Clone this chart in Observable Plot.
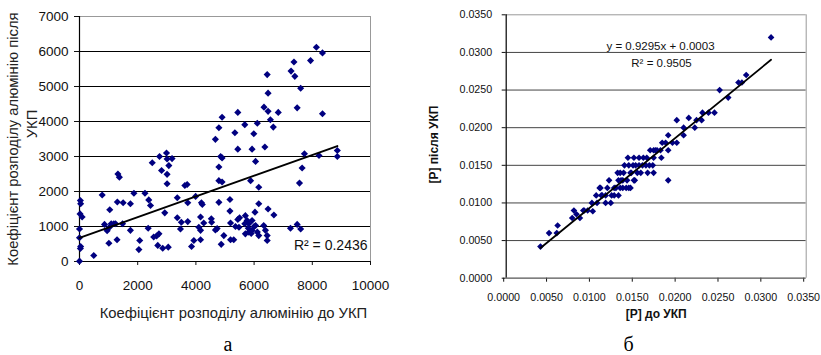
<!DOCTYPE html>
<html>
<head>
<meta charset="utf-8">
<script src="https://cdn.jsdelivr.net/npm/d3@7"></script>
<script src="https://cdn.jsdelivr.net/npm/@observablehq/plot@0.6"></script>
<style>
  html, body { margin: 0; padding: 0; background: #fff; }
  #wrap { display: flex; width: 821px; height: 355px; overflow: hidden; }
</style>
</head>
<body>
<div id="wrap"></div>
<script>
// ---------- Chart а: aluminium distribution coefficient ----------
const alBefore = [30,40,20,90,0,0,40,30,0,490,780,860,950,1030,1090,1180,1240,1040,1010,1320,1370,1300,1500,1290,1480,1750,1750,1870,2070,2040,2250,2380,2440,2360,2500,2550,2650,2730,2690,2750,2820,2860,2930,2990,3010,3070,3010,3010,3180,3050,3360,3360,3470,3500,3620,3700,3720,3720,3850,3930,3990,4100,4160,4160,4190,4220,4160,4270,4530,4540,4670,4730,4670,4790,4790,4790,4790,4850,4900,4900,4900,4870,4960,5170,5170,5190,5190,5300,5340,5440,5440,5440,5480,5680,5700,5760,5820,5680,5930,6030,6160,6050,5700,5820,5930,6110,6160,6330,6390,6450,6450,6480,6680,7250,7480,7600,5880,5930,5990,6050,6110,6160,6340,6370,6450,6480,6480,6560,6660,6830,7270,7370,7400,7480,7560,7600,7650,7730,7940,8140,8230,8350,8350,8860,8860,5360,5500,5800,6000,5900];
const alAfter  = [1740,1650,1360,1270,930,680,430,370,10,170,1900,1060,880,980,1080,1080,1080,1480,520,2500,2410,1700,1680,620,1080,1650,890,1950,600,340,1950,1760,1600,950,2820,700,730,790,460,3000,2600,380,1390,3100,2930,2740,2490,2220,2940,410,1820,1250,930,1120,2170,2200,1680,1140,430,600,1860,980,890,1270,1680,1630,620,1100,1220,1120,900,940,3490,3820,2700,2310,1690,3000,2960,4120,2270,490,740,1770,1440,1100,620,620,3680,4260,3210,1200,980,3910,1310,1170,1080,1080,1170,1410,1650,1030,790,840,890,840,740,1030,890,740,600,1500,1330,950,1060,930,2310,3210,3650,2860,3950,2120,4410,3270,5340,4810,4290,4050,3840,4260,5440,5700,5290,4390,2240,4950,2670,3080,5740,6120,3030,5960,4220,3170,3000,1000,1250,950,1000,800];
const alXTicks = [0, 2000, 4000, 6000, 8000, 10000];
const alYTicks = [0, 1000, 2000, 3000, 4000, 5000, 6000, 7000];
const alSlope = 0.2958, alIntercept = 676;
const alR2Label = "R² = 0.2436";
const alXTitle = "Коефіцієнт розподілу алюмінію до УКП";
const alYTitle1 = "Коефіцієнт розподілу алюмінію після";
const alYTitle2 = "УКП";
const labelA = "а";

// ---------- Chart б: phosphorus ----------
const pBefore = [0.0040,0.0050,0.0060,0.0059,0.0077,0.0079,0.0086,0.0090,0.0095,0.0100,0.0101,0.0106,0.0105,0.0109,0.0111,0.0116,0.0122,0.0118,0.0120,0.0123,0.0126,0.0130,0.0131,0.0131,0.0133,0.0137,0.0133,0.0136,0.0140,0.0143,0.0145,0.0136,0.0141,0.0142,0.0143,0.0145,0.0148,0.0151,0.0155,0.0159,0.0163,0.0167,0.0171,0.0149,0.0155,0.0160,0.0164,0.0153,0.0157,0.0150,0.0168,0.0172,0.0176,0.0172,0.0172,0.0181,0.0182,0.0186,0.0189,0.0189,0.0189,0.0194,0.0199,0.0199,0.0207,0.0207,0.0213,0.0220,0.0222,0.0228,0.0229,0.0236,0.0243,0.0249,0.0259,0.0271,0.0275,0.0280,0.0309,0.0091,0.0110,0.0116,0.0128,0.0149,0.0174,0.0180,0.0138,0.0165,0.0126,0.0146,0.0134,0.0112,0.0082];
const pAfter  = [0.0042,0.0060,0.0070,0.0060,0.0080,0.0090,0.0080,0.0090,0.0090,0.0100,0.0089,0.0100,0.0110,0.0120,0.0110,0.0100,0.0100,0.0120,0.0130,0.0110,0.0120,0.0140,0.0110,0.0130,0.0140,0.0140,0.0120,0.0120,0.0120,0.0120,0.0120,0.0130,0.0130,0.0160,0.0150,0.0140,0.0150,0.0150,0.0150,0.0150,0.0150,0.0150,0.0150,0.0160,0.0160,0.0160,0.0160,0.0140,0.0140,0.0130,0.0170,0.0170,0.0170,0.0140,0.0160,0.0160,0.0180,0.0180,0.0190,0.0170,0.0130,0.0180,0.0180,0.0210,0.0200,0.0190,0.0213,0.0200,0.0210,0.0210,0.0220,0.0220,0.0220,0.0250,0.0240,0.0260,0.0260,0.0270,0.0320,0.0090,0.0120,0.0110,0.0120,0.0130,0.0170,0.0170,0.0150,0.0140,0.0110,0.0140,0.0130,0.0110,0.0085];
const pTicks = [0, 0.005, 0.010, 0.015, 0.020, 0.025, 0.030, 0.035];
const pSlope = 0.9295, pIntercept = 0.0003;
const pEqLabel = "y = 0.9295x + 0.0003";
const pR2Label = "R² = 0.9505";
const pXTitle = "[P] до УКП";
const pYTitle = "[P] після УКП";
const labelB = "б";

const font = "'Liberation Sans', Arial, sans-serif";
const serif = "'Liberation Serif', 'Times New Roman', serif";
const navy = "#000080";
const hasAxisMarks = typeof Plot.axisX === "function";

// data tables
const alData = alBefore.map((x, i) => ({x, y: alAfter[i]}));
const pData = pBefore.map((x, i) => ({x, y: pAfter[i]}));
const alLine = d3.extent(alBefore).map(x => ({x, y: alSlope * x + alIntercept}));
const pLine = d3.extent(pBefore).map(x => ({x, y: pSlope * x + pIntercept}));

const left = Plot.plot({
  width: 410, height: 355,
  marginLeft: 79, marginRight: 40, marginTop: 16, marginBottom: 94,
  style: {fontFamily: font, fontSize: "13.5px", color: "#111", background: "#fff", overflow: "visible"},
  x: {domain: [0, 10000], ticks: alXTicks, tickFormat: d3.format("d"), tickSize: 4, tickPadding: 15, label: null},
  y: {domain: [0, 7000], ticks: alYTicks, tickFormat: d3.format("d"), tickSize: 5, tickPadding: 6, label: null},
  marks: [
    Plot.ruleY(alYTicks.filter(d => d > 0 && d < 7000), {stroke: "#000", strokeWidth: 1}),
    Plot.ruleY([7000], {stroke: "#999", strokeWidth: 1}),
    Plot.ruleX([10000], {stroke: "#999", strokeWidth: 1}),
    Plot.ruleX([0], {stroke: "#000", strokeWidth: 1.2}),
    Plot.ruleY([0], {stroke: "#000", strokeWidth: 1.2}),
    Plot.dot(alData, {x: "x", y: "y", symbol: "diamond2", r: 3.2, fill: navy, stroke: "none"}),
    Plot.line(alLine, {x: "x", y: "y", stroke: "#000", strokeWidth: 2}),
    Plot.text([alR2Label], {frameAnchor: "bottom-right", textAnchor: "end", lineAnchor: "middle", dx: -3, dy: -16, fontSize: 14, fill: "#111"}),
    Plot.text([alXTitle], {frameAnchor: "bottom", textAnchor: "middle", lineAnchor: "middle", dx: 8.5, dy: 52, fontSize: 14.8, fill: "#222"}),
    Plot.text([alYTitle1], {frameAnchor: "left", textAnchor: "middle", rotate: -90, lineAnchor: "middle", dx: -66, dy: 0, fontSize: 14.8, fill: "#222"}),
    Plot.text([alYTitle2], {frameAnchor: "left", textAnchor: "middle", rotate: -90, lineAnchor: "middle", dx: -47, dy: -15, fontSize: 14.8, fill: "#222"}),
    Plot.text([labelA], {frameAnchor: "bottom", textAnchor: "middle", lineAnchor: "middle", dx: 3, dy: 83, fontSize: 20, fontFamily: serif, fill: "#000"})
  ]
});

const rightXAxis = hasAxisMarks
  ? [Plot.axisX(pTicks, {tickFormat: d3.format(".4f"), tickSize: 4, tickPadding: 11, dx: -2.5, fontSize: 10.7})]
  : [];

const right = Plot.plot({
  width: 411, height: 355,
  marginLeft: 95.7, marginRight: 15.3, marginTop: 14.3, marginBottom: 77.3,
  style: {fontFamily: font, fontSize: "10.7px", color: "#111", background: "#fff", overflow: "visible"},
  x: hasAxisMarks
    ? {domain: [0, 0.035], label: null}
    : {domain: [0, 0.035], ticks: pTicks, tickFormat: d3.format(".4f"), tickSize: 4, tickPadding: 11, label: null},
  y: {domain: [0, 0.035], ticks: pTicks, tickFormat: d3.format(".4f"), tickSize: 4, tickPadding: 10, label: null},
  marks: [
    ...rightXAxis,
    Plot.ruleY(pTicks.filter(d => d > 0 && d < 0.035), {stroke: "#444", strokeWidth: 1}),
    Plot.ruleY([0.035], {stroke: "#999", strokeWidth: 1}),
    Plot.ruleX([0.035], {stroke: "#999", strokeWidth: 1}),
    Plot.ruleX([0], {stroke: "#000", strokeWidth: 1.2}),
    Plot.ruleY([0], {stroke: "#555", strokeWidth: 1.2}),
    Plot.dot(pData, {x: "x", y: "y", symbol: "diamond2", r: 3, fill: navy, stroke: "none"}),
    Plot.line(pLine, {x: "x", y: "y", stroke: "#000", strokeWidth: 1.8}),
    Plot.text([pEqLabel], {frameAnchor: "top", textAnchor: "middle", lineAnchor: "middle", dx: 4.3, dy: 31.4, fontSize: 11.5, fill: "#111"}),
    Plot.text([pR2Label], {frameAnchor: "top", textAnchor: "middle", lineAnchor: "middle", dx: 5.3, dy: 48.7, fontSize: 11.5, fill: "#111"}),
    Plot.text([pXTitle], {frameAnchor: "bottom", textAnchor: "middle", lineAnchor: "middle", dx: 0, dy: 36.3, fontSize: 12, fontWeight: "bold", fill: "#111"}),
    Plot.text([pYTitle], {frameAnchor: "left", textAnchor: "middle", rotate: -90, lineAnchor: "middle", dx: -71.7, dy: -2, fontSize: 12, fontWeight: "bold", fill: "#111"}),
    Plot.text([labelB], {frameAnchor: "bottom", textAnchor: "middle", lineAnchor: "middle", dx: -27.7, dy: 66.3, fontSize: 20, fontFamily: serif, fill: "#000"})
  ]
});

document.getElementById("wrap").append(left, right);
</script>
</body>
</html>
